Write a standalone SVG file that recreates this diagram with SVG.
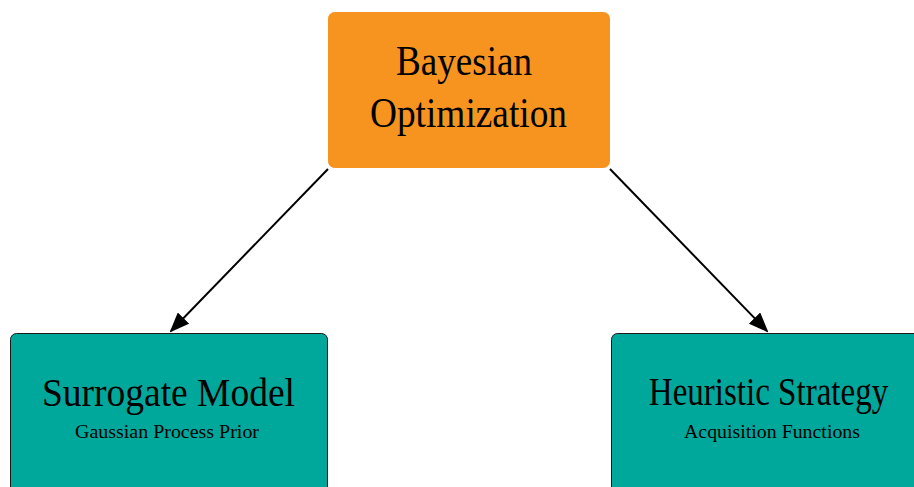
<svg xmlns="http://www.w3.org/2000/svg" width="914" height="487" viewBox="0 0 914 487">
<style>
.orange{fill:#f7941f;stroke:#f7941f;stroke-width:1}
.teal{fill:#00a89c;stroke:#1a1a1a;stroke-width:1}
.t{font-family:"Liberation Serif","Times New Roman",serif;fill:#000;text-anchor:middle}
.edge{stroke:#000;stroke-width:2;fill:none;marker-end:url(#ah)}
</style>
<defs>
<marker id="ah" markerWidth="10" markerHeight="8" refX="9" refY="4" orient="auto" markerUnits="strokeWidth">
<path d="M0,0 L10,4 L0,8 z" fill="#000"/>
</marker>
</defs>
<rect width="914" height="487" fill="#fff"/>
<g id="edges">
<line class="edge" x1="328" y1="169" x2="171" y2="331"/>
<line class="edge" x1="610" y1="169" x2="767" y2="331"/>
</g>
<g id="bayesian">
<rect class="orange" x="328.5" y="12.5" width="281" height="155" rx="6"/>
<text class="t" x="464" y="75" font-size="42" textLength="136" lengthAdjust="spacingAndGlyphs">Bayesian</text>
<text class="t" x="468.5" y="127" font-size="42" textLength="197" lengthAdjust="spacingAndGlyphs">Optimization</text>
</g>
<g id="surrogate">
<rect class="teal" x="10.5" y="333.5" width="317" height="170" rx="6"/>
<text class="t" x="168.5" y="406" font-size="40" textLength="253" lengthAdjust="spacingAndGlyphs">Surrogate Model</text>
<text class="t" x="167" y="438" font-size="19" textLength="184" lengthAdjust="spacingAndGlyphs">Gaussian Process Prior</text>
</g>
<g id="heuristic">
<rect class="teal" x="611.5" y="333.5" width="317" height="170" rx="6"/>
<text class="t" transform="translate(768.5,405) scale(0.826,1)" x="0" y="0" font-size="40">Heuristic Strategy</text>
<text class="t" x="772" y="438" font-size="19" textLength="176" lengthAdjust="spacingAndGlyphs">Acquisition Functions</text>
</g>
</svg>
